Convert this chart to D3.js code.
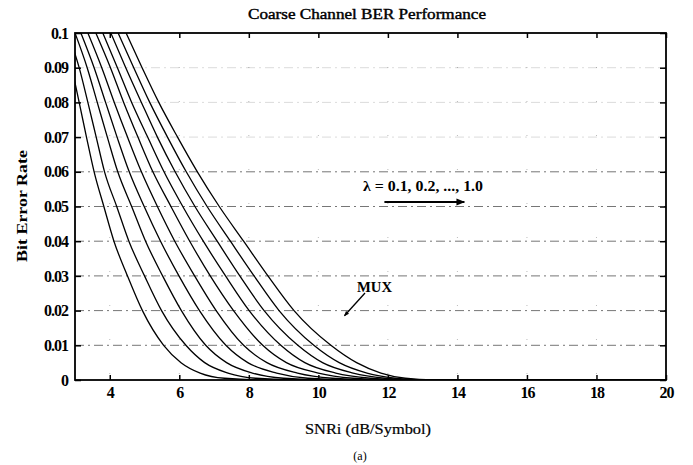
<!DOCTYPE html>
<html>
<head>
<meta charset="utf-8">
<script src="https://cdn.jsdelivr.net/npm/d3@7"></script>
<style>
  html, body { margin: 0; padding: 0; background: #fff; }
  svg { display: block; }
  text { font-family: "Liberation Serif", "DejaVu Serif", serif; fill: #000; }
</style>
</head>
<body>
<svg id="chart" width="693" height="465"></svg>
<script>
// ---- data ----
const xTicks = [4, 6, 8, 10, 12, 14, 16, 18, 20];
const yTicks = [0, 0.01, 0.02, 0.03, 0.04, 0.05, 0.06, 0.07, 0.08, 0.09, 0.1];
const yTickLabels = ["0", "0.01", "0.02", "0.03", "0.04", "0.05", "0.06", "0.07", "0.08", "0.09", "0.1"];
const lambdas = [0.1, 0.2, 0.3, 0.4, 0.5, 0.6, 0.7, 0.8, 0.9, 1.0];
// BER levels at which each curve's SNRi crossing was read
const berLevels = [0.1, 0.09, 0.08, 0.07, 0.06, 0.05, 0.04, 0.03, 0.02, 0.01, 0.005, 0.002, 0.0005, 0, 0];
// SNRi (dB/Symbol) crossings for each lambda curve at the BER levels above
const snrLambda01 = [2.60, 2.90, 3.12, 3.33, 3.55, 3.83, 4.12, 4.51, 4.94, 5.55, 6.05, 6.60, 7.30, 8.6, 20];
const snrLambda02 = [2.80, 3.12, 3.37, 3.61, 3.85, 4.20, 4.55, 5.00, 5.49, 6.19, 6.73, 7.40, 8.20, 9.5, 20];
const snrLambda03 = [3.00, 3.35, 3.64, 3.93, 4.23, 4.63, 5.03, 5.52, 6.06, 6.76, 7.36, 8.10, 9.00, 10.3, 20];
const snrLambda04 = [3.17, 3.55, 3.88, 4.21, 4.56, 4.99, 5.46, 5.99, 6.58, 7.34, 7.97, 8.80, 9.70, 11.0, 20];
const snrLambda05 = [3.37, 3.77, 4.13, 4.51, 4.91, 5.37, 5.87, 6.44, 7.06, 7.85, 8.52, 9.40, 10.4, 11.6, 20];
const snrLambda06 = [3.60, 4.02, 4.40, 4.81, 5.24, 5.76, 6.30, 6.89, 7.56, 8.40, 9.08, 10.0, 11.0, 12.1, 20];
const snrLambda07 = [3.80, 4.22, 4.63, 5.09, 5.56, 6.10, 6.69, 7.33, 8.01, 8.92, 9.61, 10.5, 11.5, 12.5, 20];
const snrLambda08 = [4.03, 4.46, 4.91, 5.37, 5.88, 6.45, 7.09, 7.74, 8.44, 9.41, 10.12, 11.0, 11.9, 12.8, 20];
const snrLambda09 = [4.24, 4.69, 5.15, 5.66, 6.20, 6.80, 7.47, 8.15, 8.87, 9.87, 10.60, 11.4, 12.2, 13.0, 20];
const snrLambda10 = [4.47, 4.93, 5.41, 5.95, 6.52, 7.15, 7.85, 8.55, 9.30, 10.36, 11.10, 11.8, 12.5, 13.3, 20];
const curveSnr = [snrLambda01, snrLambda02, snrLambda03, snrLambda04, snrLambda05,
                  snrLambda06, snrLambda07, snrLambda08, snrLambda09, snrLambda10];

const titleText = "Coarse Channel BER Performance";
const xLabel = "SNRi (dB/Symbol)";
const yLabel = "Bit Error Rate";
const lambdaLabel = "\u03bb = 0.1, 0.2, ..., 1.0";
const muxLabel = "MUX";
const captionText = "(a)";

// ---- layout ----
const svg = d3.select("#chart");
const L = 75, R = 666, T = 33, B = 380;
const x = d3.scaleLinear().domain([3, 20]).range([L, R]);
const y = d3.scaleLinear().domain([0, 0.1]).range([B, T]);

svg.append("defs").append("clipPath").attr("id", "plotclip")
  .append("rect").attr("x", L).attr("y", T).attr("width", R - L).attr("height", B - T);

// grid lines (dash-dot, horizontal) and sparse dotted verticals
const grid = svg.append("g");
grid.selectAll("line.h").data(yTicks.filter(v => v > 0 && v < 0.1)).join("line")
  .attr("x1", L).attr("x2", R)
  .attr("y1", d => y(d)).attr("y2", d => y(d))
  .attr("stroke", "#333").attr("stroke-width", 0.9)
  .attr("stroke-dasharray", "9,4,2,4")
  .attr("stroke-opacity", d => d >= 0.07 ? 0.2 : 0.75);
grid.selectAll("line.v").data(xTicks.filter(v => v < 20)).join("line")
  .attr("x1", d => x(d)).attr("x2", d => x(d))
  .attr("y1", T).attr("y2", B)
  .attr("stroke", "#555").attr("stroke-width", 0.8)
  .attr("stroke-dasharray", "1,33")
  .attr("stroke-opacity", 0.5);

// curves
const line = d3.line()
  .x(d => x(d[0])).y(d => y(d[1]))
  .curve(d3.curveMonotoneX);
svg.append("g").attr("clip-path", "url(#plotclip)")
  .selectAll("path").data(curveSnr.map(arr => arr.map((s, i) => [s, berLevels[i]])))
  .join("path")
  .attr("d", line)
  .attr("fill", "none").attr("stroke", "#000").attr("stroke-width", 1.3);

// axes frame
svg.append("rect").attr("x", L).attr("y", T).attr("width", R - L).attr("height", B - T)
  .attr("fill", "none").attr("stroke", "#000").attr("stroke-width", 1.8);

// axes with inward ticks
const axL = svg.append("g").attr("transform", `translate(${L},0)`)
  .call(d3.axisLeft(y).tickValues(yTicks).tickSize(-6).tickPadding(7)
    .tickFormat((d, i) => yTickLabels[i]));
const axR = svg.append("g").attr("transform", `translate(${R},0)`)
  .call(d3.axisRight(y).tickValues(yTicks).tickSize(-6).tickFormat(""));
const axB = svg.append("g").attr("transform", `translate(0,${B})`)
  .call(d3.axisBottom(x).tickValues(xTicks).tickSize(-5).tickPadding(7));
const axT = svg.append("g").attr("transform", `translate(0,${T})`)
  .call(d3.axisTop(x).tickValues(xTicks).tickSize(-5).tickFormat(""));
[axL, axR, axB, axT].forEach(a => {
  a.select(".domain").remove();
  a.selectAll(".tick line").attr("stroke", "#000").attr("stroke-width", 1.5);
});
[axL, axB].forEach(a => a.selectAll(".tick text")
  .style("font-family", '"Liberation Serif", serif')
  .style("font-weight", "bold").style("font-size", "16px").style("letter-spacing", "-1px"));

// title
svg.append("text").attr("x", 367).attr("y", 19).attr("text-anchor", "middle")
  .style("font-size", "14px").style("font-weight", "normal")
  .style("stroke", "#000").style("stroke-width", "0.4px")
  .attr("textLength", 238).attr("lengthAdjust", "spacingAndGlyphs")
  .text(titleText);

// axis labels
svg.append("text").attr("x", 368).attr("y", 434).attr("text-anchor", "middle")
  .style("font-size", "15px")
  .style("stroke", "#000").style("stroke-width", "0.2px")
  .attr("textLength", 126).attr("lengthAdjust", "spacingAndGlyphs")
  .text(xLabel);
svg.append("text").attr("transform", "translate(27,206) rotate(-90)")
  .attr("text-anchor", "middle")
  .style("font-size", "15px").style("font-weight", "bold")
  .attr("textLength", 112).attr("lengthAdjust", "spacingAndGlyphs")
  .text(yLabel);
svg.append("text").attr("x", 360).attr("y", 460).attr("text-anchor", "middle")
  .style("font-size", "12px")
  .text(captionText);

// lambda annotation with arrow
svg.append("defs").append("marker").attr("id", "arrowR")
  .attr("viewBox", "0 0 10 10").attr("refX", 9).attr("refY", 5)
  .attr("markerWidth", 4).attr("markerHeight", 4).attr("orient", "auto")
  .append("path").attr("d", "M0,1 L10,5 L0,9 z").attr("fill", "#000");
svg.append("text").attr("x", 363).attr("y", 191)
  .style("font-size", "15px").style("font-weight", "bold")
  .attr("textLength", 120).attr("lengthAdjust", "spacingAndGlyphs")
  .text(lambdaLabel);
svg.append("line").attr("x1", x(11.9)).attr("y1", 202).attr("x2", x(14.2)).attr("y2", 202)
  .attr("stroke", "#000").attr("stroke-width", 2.2)
  .attr("marker-end", "url(#arrowR)");

// MUX annotation with arrow
svg.append("text").attr("x", 357).attr("y", 292)
  .style("font-size", "14px").style("font-weight", "bold")
  .attr("textLength", 35).attr("lengthAdjust", "spacingAndGlyphs")
  .text(muxLabel);
svg.append("line").attr("x1", 365).attr("y1", 293).attr("x2", x(10.75)).attr("y2", y(0.0185))
  .attr("stroke", "#000").attr("stroke-width", 1.3)
  .attr("marker-end", "url(#arrowR)");
</script>
</body>
</html>
